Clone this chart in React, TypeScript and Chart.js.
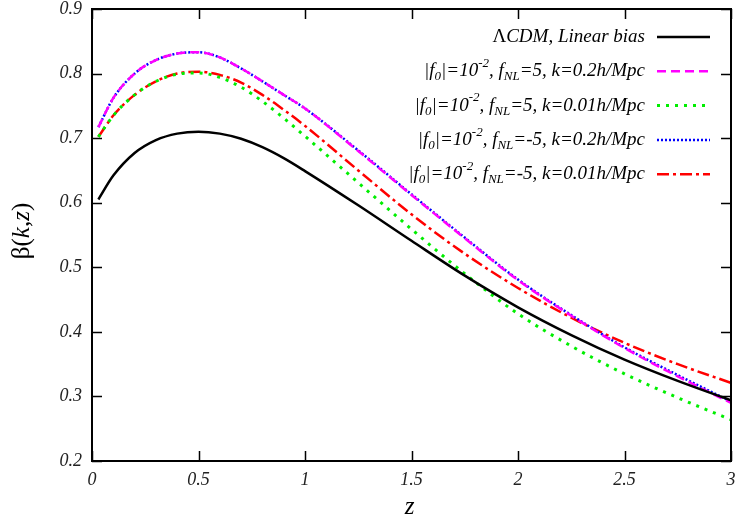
import React, { useEffect, useRef } from "react";
import { Chart, registerables } from "chart.js";

Chart.register(...registerables);

// ---- data ----
const zValues = [0.03, 0.1, 0.2, 0.3, 0.4, 0.5, 0.6, 0.7, 0.8, 0.9, 1.0, 1.25, 1.5, 1.75, 2.0, 2.25, 2.5, 2.75, 3.0];
const lcdmLinear = [0.605, 0.642, 0.677, 0.697, 0.707, 0.710, 0.707, 0.699, 0.686, 0.669, 0.649, 0.596, 0.541, 0.487, 0.438, 0.395, 0.357, 0.324, 0.294];
const fnlP5k02 = [0.717, 0.762, 0.800, 0.821, 0.831, 0.833, 0.825, 0.808, 0.788, 0.767, 0.746, 0.680, 0.612, 0.545, 0.480, 0.425, 0.375, 0.331, 0.290];
const fnlP5k001 = [0.702, 0.735, 0.767, 0.788, 0.799, 0.801, 0.794, 0.779, 0.757, 0.731, 0.703, 0.631, 0.559, 0.490, 0.428, 0.378, 0.335, 0.298, 0.264];
const fnlM5k02 = [0.717, 0.762, 0.800, 0.821, 0.831, 0.833, 0.825, 0.808, 0.788, 0.767, 0.746, 0.681, 0.613, 0.546, 0.481, 0.426, 0.376, 0.333, 0.292];
const fnlM5k001 = [0.702, 0.735, 0.767, 0.788, 0.800, 0.803, 0.798, 0.786, 0.767, 0.744, 0.719, 0.650, 0.582, 0.521, 0.468, 0.422, 0.383, 0.350, 0.321];

const xTickValues = [0, 0.5, 1, 1.5, 2, 2.5, 3];
const yTickValues = [0.2, 0.3, 0.4, 0.5, 0.6, 0.7, 0.8, 0.9];

type Seg = { t: string; it?: boolean; sub?: boolean; sup?: boolean };
const legendLabels: Seg[][] = [
  [{ t: "Λ" }, { t: "CDM, Linear bias", it: true }],
  [{ t: "|f", it: true }, { t: "0", it: true, sub: true }, { t: "|=10", it: true }, { t: "-2", it: true, sup: true }, { t: ", f", it: true }, { t: "NL", it: true, sub: true }, { t: "=5, k=0.2h/Mpc", it: true }],
  [{ t: "|f", it: true }, { t: "0", it: true, sub: true }, { t: "|=10", it: true }, { t: "-2", it: true, sup: true }, { t: ", f", it: true }, { t: "NL", it: true, sub: true }, { t: "=5, k=0.01h/Mpc", it: true }],
  [{ t: "|f", it: true }, { t: "0", it: true, sub: true }, { t: "|=10", it: true }, { t: "-2", it: true, sup: true }, { t: ", f", it: true }, { t: "NL", it: true, sub: true }, { t: "=-5, k=0.2h/Mpc", it: true }],
  [{ t: "|f", it: true }, { t: "0", it: true, sub: true }, { t: "|=10", it: true }, { t: "-2", it: true, sup: true }, { t: ", f", it: true }, { t: "NL", it: true, sub: true }, { t: "=-5, k=0.01h/Mpc", it: true }],
];

const seriesList = [lcdmLinear, fnlP5k02, fnlP5k001, fnlM5k02, fnlM5k001];
const seriesStyles = [
  { color: "#000000", width: 2.5, dash: [] as number[] },
  { color: "#ff00ff", width: 2.5, dash: [9, 5] },
  { color: "#00ee00", width: 3, dash: [3, 6] },
  { color: "#0000ff", width: 2.5, dash: [2, 2] },
  { color: "#ff0000", width: 2.5, dash: [12, 4, 3, 4] },
];

const FAMILY = "'Liberation Serif', 'DejaVu Serif', serif";

function font(size: number, italic: boolean) {
  return `${italic ? "italic " : ""}${size}px ${FAMILY}`;
}

function drawRich(ctx: CanvasRenderingContext2D, segs: Seg[], xRight: number, y: number, size: number) {
  const small = Math.round(size * 0.7);
  let total = 0;
  const widths = segs.map((s) => {
    ctx.font = font(s.sub || s.sup ? small : size, !!s.it);
    const w = ctx.measureText(s.t).width;
    total += w;
    return w;
  });
  let x = xRight - total;
  segs.forEach((s, i) => {
    ctx.font = font(s.sub || s.sup ? small : size, !!s.it);
    const dy = s.sub ? size * 0.3 : s.sup ? -size * 0.4 : 0;
    ctx.fillText(s.t, x, y + dy);
    x += widths[i];
  });
}

const decorPlugin = {
  id: "decor",
  afterDraw(chart: any) {
    const { ctx, chartArea: a, scales } = chart;
    const xs = scales.x;
    const ys = scales.y;
    ctx.save();
    // frame
    ctx.strokeStyle = "#000";
    ctx.lineWidth = 2;
    ctx.setLineDash([]);
    ctx.strokeRect(a.left, a.top, a.right - a.left, a.bottom - a.top);
    // inward ticks
    const tl = 10;
    ctx.lineWidth = 1.5;
    ctx.beginPath();
    xTickValues.forEach((v) => {
      const px = Math.round(xs.getPixelForValue(v)) + 0.5;
      ctx.moveTo(px, a.bottom);
      ctx.lineTo(px, a.bottom - tl);
      ctx.moveTo(px, a.top);
      ctx.lineTo(px, a.top + tl);
    });
    yTickValues.forEach((v) => {
      const py = Math.round(ys.getPixelForValue(v)) + 0.5;
      ctx.moveTo(a.left, py);
      ctx.lineTo(a.left + tl, py);
      ctx.moveTo(a.right, py);
      ctx.lineTo(a.right - tl, py);
    });
    ctx.stroke();

    // axis titles
    ctx.fillStyle = "#000";
    ctx.textBaseline = "middle";
    ctx.textAlign = "center";
    ctx.font = font(25, true);
    ctx.fillText("z", (a.left + a.right) / 2 - 2, 507);

    ctx.save();
    ctx.translate(22, 231);
    ctx.rotate(-Math.PI / 2);
    ctx.textAlign = "left";
    const ySegs: Seg[] = [{ t: "β(" }, { t: "k", it: true }, { t: "," }, { t: "z", it: true }, { t: ")" }];
    let tw = 0;
    ySegs.forEach((s) => {
      ctx.font = font(25, !!s.it);
      tw += ctx.measureText(s.t).width;
    });
    drawRich(ctx, ySegs, tw / 2, 0, 25);
    ctx.restore();

    // legend
    ctx.textAlign = "left";
    ctx.textBaseline = "middle";
    const rowY0 = 37;
    const rowStep = 34.3;
    legendLabels.forEach((segs, i) => {
      const yy = rowY0 + i * rowStep;
      ctx.fillStyle = "#000";
      drawRich(ctx, segs, 645, yy, 19);
      const st = seriesStyles[i];
      ctx.strokeStyle = st.color;
      ctx.lineWidth = st.width;
      ctx.setLineDash(st.dash);
      ctx.lineCap = "butt";
      ctx.beginPath();
      ctx.moveTo(657, yy);
      ctx.lineTo(710, yy);
      ctx.stroke();
    });
    ctx.restore();
  },
};

export default function App() {
  const ref = useRef<HTMLCanvasElement | null>(null);
  useEffect(() => {
    if (!ref.current) return;
    const datasets = seriesList.map((vals, i) => ({
      label: "s" + i,
      data: zValues.map((z, j) => ({ x: z, y: vals[j] })),
      borderColor: seriesStyles[i].color,
      borderWidth: seriesStyles[i].width,
      borderDash: seriesStyles[i].dash,
      borderCapStyle: "butt" as const,
      pointRadius: 0,
      fill: false,
      cubicInterpolationMode: "monotone" as const,
    }));
    const tickFont = { family: FAMILY, style: "italic" as const, size: 18 };
    const chart = new Chart(ref.current, {
      type: "line",
      data: { datasets },
      plugins: [decorPlugin],
      options: {
        responsive: false,
        animation: false,
        layout: { padding: { left: 0, top: 9, right: 4, bottom: 0 } },
        plugins: { legend: { display: false }, tooltip: { enabled: false } },
        scales: {
          x: {
            type: "linear",
            min: 0,
            max: 3,
            grid: { display: false, drawTicks: false },
            border: { display: false },
            afterBuildTicks: (s: any) => {
              s.ticks = xTickValues.map((v) => ({ value: v }));
            },
            afterFit: (s: any) => {
              s.height = 60;
              s.paddingLeft = 0;
              s.paddingRight = 0;
            },
            ticks: {
              font: tickFont,
              color: "#222",
              padding: 8,
              maxRotation: 0,
              callback: (v: any) => (Number.isInteger(v) ? String(v) : Number(v).toFixed(1)),
            },
          },
          y: {
            type: "linear",
            min: 0.2,
            max: 0.9,
            grid: { display: false, drawTicks: false },
            border: { display: false },
            afterBuildTicks: (s: any) => {
              s.ticks = yTickValues.map((v) => ({ value: v }));
            },
            afterFit: (s: any) => {
              s.width = 92;
              s.paddingTop = 0;
              s.paddingBottom = 0;
            },
            ticks: {
              font: tickFont,
              color: "#222",
              padding: 10,
              callback: (v: any) => Number(v).toFixed(1),
            },
          },
        },
      },
    });
    return () => chart.destroy();
  }, []);
  return (
    <div style={{ position: "absolute", left: 0, top: 0, width: 735, height: 521, background: "#fff" }}>
      <canvas ref={ref} width={735} height={521} style={{ display: "block" }} />
    </div>
  );
}
